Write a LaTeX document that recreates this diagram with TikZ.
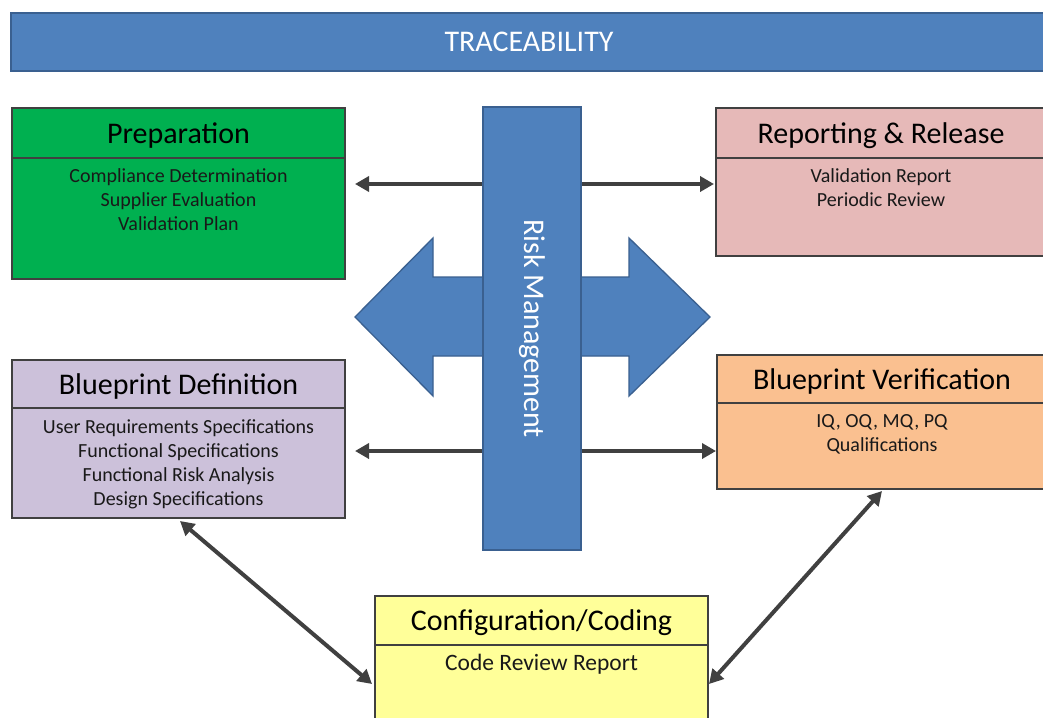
\documentclass[tikz,border=0pt]{standalone}
\usepackage{fontspec}
\setmainfont{Carlito}
\usetikzlibrary{arrows.meta,calc}
\definecolor{tblue}{HTML}{4F81BD}
\definecolor{tbord}{HTML}{3A6090}
\definecolor{prepc}{HTML}{00B050}
\definecolor{repc}{HTML}{E6B9B8}
\definecolor{defc}{HTML}{CCC1DA}
\definecolor{verc}{HTML}{FAC090}
\definecolor{confc}{HTML}{FFFF99}
\definecolor{lineg}{HTML}{404040}
\begin{document}
\begin{tikzpicture}[x=1pt,y=-1pt,
 stage/.style={draw=lineg,line width=1.3pt,anchor=north west,inner sep=0pt,outer sep=0pt},
 hdr/.style={anchor=base,inner sep=0pt,font=\fontsize{30}{35}\selectfont,text=black},
 bodytxt/.style={anchor=north,inner sep=0pt,align=center,font=\fontsize{20}{24.3}\selectfont,text=black!90},
 divline/.style={draw=lineg,line width=1.3pt},
 conn/.style={draw=lineg,line width=4pt,-{Triangle[length=14pt,width=15pt]}},
 conn2/.style={draw=lineg,line width=4pt,{Triangle[length=14pt,width=15pt]}-{Triangle[length=14pt,width=15pt]}},
 ]
\useasboundingbox (0,0) rectangle (1043,717);
\fill[white] (0,0) rectangle (1043,717);

% title bar
\node[stage, fill=tblue, draw=tbord, minimum width=1036pt, minimum height=58pt] (title) at (11,13) {};
\node[text=white, font=\fontsize{30}{34}\selectfont] (titletxt) at (title.center) {TRACEABILITY};

% stage boxes
\node[stage, fill=prepc, minimum width=333pt, minimum height=171pt] (prep) at (12,108) {};
\node[stage, fill=repc, minimum width=330pt, minimum height=148pt] (rr) at (716,108) {};
\node[stage, fill=defc, minimum width=333pt, minimum height=158pt] (bdef) at (12,360) {};
\node[stage, fill=verc, minimum width=330pt, minimum height=134pt] (bver) at (717,355) {};
\node[stage, fill=confc, minimum width=333pt, minimum height=140pt] (conf) at (375,596) {};

% dividers
\draw[divline] ($(prep.north west)+(0,50)$) -- ($(prep.north east)+(0,50)$);
\draw[divline] ($(rr.north west)+(0,50)$) -- ($(rr.north east)+(0,50)$);
\draw[divline] ($(bdef.north west)+(0,48)$) -- ($(bdef.north east)+(0,48)$);
\draw[divline] ($(bver.north west)+(0,48)$) -- ($(bver.north east)+(0,48)$);
\draw[divline] ($(conf.north west)+(0,49)$) -- ($(conf.north east)+(0,49)$);

% headers
\node[hdr] (prep-h) at ($(prep.north)+(0,35)$) {Preparation};
\node[hdr] (rr-h) at ($(rr.north)+(0,35)$) {Reporting \& Release};
\node[hdr] (bdef-h) at ($(bdef.north)+(0,34)$) {Blueprint Definition};
\node[hdr] (bver-h) at ($(bver.north)+(0,34)$) {Blueprint Verification};
\node[hdr] (conf-h) at ($(conf.north)+(0,34)$) {Configuration/Coding};

% bodies
\node[bodytxt] (prep-b) at ($(prep.north)+(0,60)$) {Compliance Determination\\Supplier Evaluation\\Validation Plan};
\node[bodytxt] (rr-b) at ($(rr.north)+(0,60)$) {Validation Report\\Periodic Review};
\node[bodytxt] (bdef-b) at ($(bdef.north)+(0,59)$) {User Requirements Specifications\\Functional Specifications\\Functional Risk Analysis\\Design Specifications};
\node[bodytxt] (bver-b) at ($(bver.north)+(0,59)$) {IQ, OQ, MQ, PQ\\Qualifications};
\node[bodytxt, font=\fontsize{23.5}{28}\selectfont] (conf-b) at ($(conf.north)+(0,58)$) {Code Review Report};

% risk management bar (node for anchors, drawn later)
\path (483,107) node[anchor=north west, inner sep=0pt, outer sep=0pt, minimum width=98pt, minimum height=443pt] (bar) {};
\coordinate (row1) at (0,184);
\coordinate (row2) at (0,451);

% connectors
\draw[conn] (bar.west |- row1) -- ([xshift=10pt]prep.east |- row1);
\draw[conn] (bar.east |- row1) -- ([xshift=-2pt]rr.west |- row1);
\draw[conn] (bar.west |- row2) -- ([xshift=10pt]bdef.east |- row2);
\draw[conn] (bar.east |- row2) -- ([xshift=-1pt]bver.west |- row2);
\draw[conn2] ([xshift=1.5pt,yshift=-3pt]bdef.south) -- ([xshift=-3pt,yshift=-18pt]conf.west);
\draw[conn2] ([xshift=1pt,yshift=-18pt]conf.east) -- ([yshift=-2pt]bver.south);

% big double arrow
\draw[fill=tblue, draw=tbord, line width=1.3pt, line join=miter]
  (355,317) -- (433,238) -- (433,277) -- (629,277) -- (629,238) -- (710,317)
  -- (629,396) -- (629,356) -- (433,356) -- (433,396) -- cycle;

% bar on top
\draw[fill=tblue, draw=tbord, line width=1.3pt] (bar.north west) rectangle (bar.south east);
\node[rotate=-90, text=white, font=\fontsize{30}{34}\selectfont] (bartxt) at (bar.center) {Risk Management};
\end{tikzpicture}
\end{document}
